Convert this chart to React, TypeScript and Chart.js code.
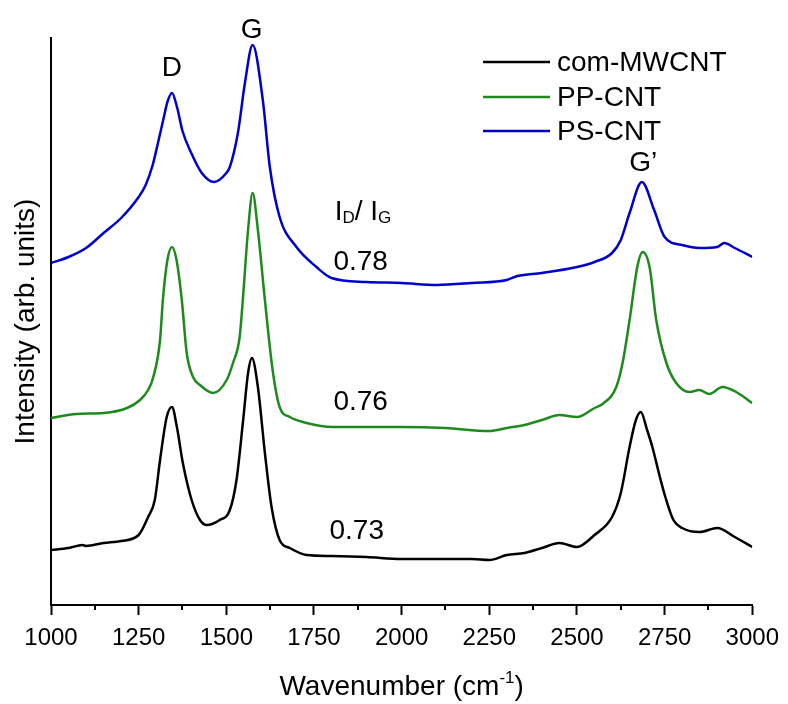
import React, { useEffect, useRef } from 'react';
import { Chart, registerables } from 'chart.js';

Chart.register(...registerables);

// ---------- data ----------
const seriesNames = ['com-MWCNT', 'PP-CNT', 'PS-CNT'];
const seriesColors = ['#000000', '#1e8a1e', '#0000cd'];

const mwcntWavenumber = [1000, 1050, 1090, 1100, 1150, 1200, 1250, 1277, 1296, 1311, 1330, 1345, 1359, 1376, 1401, 1425, 1444, 1481, 1510, 1529, 1548, 1562, 1573, 1590, 1610, 1629, 1652, 1681, 1729, 1800, 1900, 2000, 2100, 2200, 2250, 2300, 2350, 2400, 2450, 2500, 2550, 2600, 2625, 2650, 2668, 2682, 2700, 2715, 2735, 2752, 2775, 2800, 2850, 2900, 2950, 3000];
const mwcntIntensity = [55, 57, 60, 59, 62, 64, 70, 88, 105, 145, 188, 198, 178, 142, 105, 85, 80, 85, 95, 125, 185, 232, 247, 218, 152, 98, 65, 57, 50, 49, 48, 46, 46, 46, 45, 50, 52, 57, 62, 58, 70, 88, 112, 158, 185, 193, 175, 158, 130, 108, 85, 77, 73, 77, 68, 58];

const ppWavenumber = [1000, 1073, 1150, 1217, 1254, 1277, 1291, 1311, 1319, 1332, 1345, 1358, 1373, 1387, 1405, 1425, 1462, 1501, 1519, 1538, 1547, 1562, 1575, 1590, 1610, 1632, 1652, 1681, 1729, 1803, 1900, 2000, 2125, 2250, 2300, 2350, 2400, 2450, 2500, 2550, 2573, 2612, 2630, 2650, 2672, 2687, 2707, 2726, 2755, 2783, 2821, 2849, 2877, 2915, 2954, 3000];
const ppIntensity = [187, 191, 192, 197, 205, 215, 227, 265, 305, 345, 358, 345, 305, 252, 228, 220, 212, 225, 242, 268, 305, 375, 412, 375, 305, 235, 198, 188, 182, 178, 178, 178, 177, 174, 177, 180, 185, 190, 188, 197, 201, 218, 242, 285, 338, 353, 338, 285, 242, 222, 213, 215, 211, 218, 213, 202];

const psWavenumber = [1000, 1050, 1100, 1150, 1200, 1250, 1270, 1290, 1305, 1320, 1332, 1345, 1360, 1375, 1400, 1430, 1465, 1500, 1510, 1533, 1553, 1575, 1604, 1624, 1652, 1700, 1757, 1800, 1900, 2000, 2100, 2200, 2300, 2330, 2400, 2500, 2550, 2600, 2625, 2650, 2685, 2720, 2750, 2800, 2850, 2900, 2920, 2950, 3000];
const psIntensity = [342, 348, 357, 372, 387, 408, 420, 440, 462, 485, 503, 512, 497, 474, 452, 432, 423, 432, 438, 472, 522, 560, 505, 438, 388, 358, 338, 327, 323, 322, 320, 322, 325, 329, 332, 338, 343, 352, 365, 392, 423, 395, 368, 360, 357, 358, 362, 357, 348];

const xTickStep = 250;
const xMinorTicks = [1125, 1375, 1625, 1875, 2125, 2375, 2625, 2875];

const peakLabels = ['D', 'G', 'G\u2019'];
const peakLabelX = [1345, 1572, 2689];
const peakLabelY = [537, 575, 442];

const ratioLabels = ['0.73', '0.76', '0.78'];
const ratioLabelX = [1872, 1883, 1883];
const ratioLabelY = [74, 203, 343];

const FONT = '"Liberation Sans", Arial, sans-serif';

const annotationPlugin = {
  id: 'annotations',
  afterDraw(chart: any) {
    const ctx = chart.ctx as CanvasRenderingContext2D;
    const xs = chart.scales.x;
    const ys = chart.scales.y;
    ctx.save();
    ctx.fillStyle = '#000';
    ctx.strokeStyle = '#000';

    // minor ticks
    ctx.lineWidth = 2;
    const bottom = chart.chartArea.bottom;
    xMinorTicks.forEach((v) => {
      const px = Math.round(xs.getPixelForValue(v));
      ctx.beginPath();
      ctx.moveTo(px, bottom);
      ctx.lineTo(px, bottom + 5);
      ctx.stroke();
    });

    // peak labels
    ctx.font = `28px ${FONT}`;
    ctx.textAlign = 'center';
    ctx.textBaseline = 'middle';
    peakLabels.forEach((t, i) => {
      ctx.fillText(t, xs.getPixelForValue(peakLabelX[i]), ys.getPixelForValue(peakLabelY[i]));
    });

    // ratio labels
    ratioLabels.forEach((t, i) => {
      ctx.fillText(t, xs.getPixelForValue(ratioLabelX[i]), ys.getPixelForValue(ratioLabelY[i]));
    });

    // I_D / I_G
    ctx.textAlign = 'left';
    ctx.textBaseline = 'alphabetic';
    let x = xs.getPixelForValue(1809);
    const base = ys.getPixelForValue(385);
    const big = `28px ${FONT}`;
    const small = `17px ${FONT}`;
    const parts: [string, string, number][] = [
      ['I', big, 0],
      ['D', small, 3],
      ['/ ', big, 0],
      ['I', big, 0],
      ['G', small, 3],
    ];
    parts.forEach(([t, f, dy]) => {
      ctx.font = f;
      ctx.fillText(t, x, base + dy);
      x += ctx.measureText(t).width;
    });

    // x axis title with superscript
    const title1 = 'Wavenumber (cm';
    const sup = '-1';
    const title2 = ')';
    ctx.font = `28px ${FONT}`;
    const w1 = ctx.measureText(title1).width;
    const w3 = ctx.measureText(title2).width;
    ctx.font = `17px ${FONT}`;
    const w2 = ctx.measureText(sup).width;
    const cx = (chart.chartArea.left + chart.chartArea.right) / 2;
    let tx = cx - (w1 + w2 + w3) / 2;
    const ty = 695;
    ctx.font = `28px ${FONT}`;
    ctx.fillText(title1, tx, ty);
    tx += w1;
    ctx.font = `17px ${FONT}`;
    ctx.fillText(sup, tx, ty - 12);
    tx += w2;
    ctx.font = `28px ${FONT}`;
    ctx.fillText(title2, tx, ty);

    // legend
    const legendY = [62, 97, 131];
    ctx.textBaseline = 'middle';
    seriesNames.forEach((name, i) => {
      ctx.strokeStyle = seriesColors[i];
      ctx.lineWidth = 2.5;
      ctx.beginPath();
      ctx.moveTo(483, legendY[i]);
      ctx.lineTo(550, legendY[i]);
      ctx.stroke();
      ctx.fillStyle = '#000';
      ctx.font = `28px ${FONT}`;
      ctx.fillText(name, 557, legendY[i] + 1);
    });

    ctx.restore();
  },
};

export default function App() {
  const canvasRef = useRef<HTMLCanvasElement | null>(null);

  useEffect(() => {
    document.body.style.margin = '0';
    const canvas = canvasRef.current;
    if (!canvas) return;
    const mk = (xs: number[], ys: number[]) => xs.map((w, i) => ({ x: w, y: ys[i] }));
    const chart = new Chart(canvas, {
      type: 'line',
      data: {
        datasets: [
          { label: seriesNames[0], data: mk(mwcntWavenumber, mwcntIntensity), borderColor: seriesColors[0] },
          { label: seriesNames[1], data: mk(ppWavenumber, ppIntensity), borderColor: seriesColors[1] },
          { label: seriesNames[2], data: mk(psWavenumber, psIntensity), borderColor: seriesColors[2] },
        ].map((d) => ({
          ...d,
          borderWidth: 2.5,
          pointRadius: 0,
          fill: false,
          cubicInterpolationMode: 'monotone' as const,
        })),
      },
      options: {
        animation: false,
        responsive: false,
        devicePixelRatio: 1,
        layout: { padding: { top: 38, right: 35, left: 0, bottom: 0 } },
        plugins: {
          legend: { display: false },
          tooltip: { enabled: false },
        },
        scales: {
          x: {
            type: 'linear',
            min: 1000,
            max: 3000,
            afterFit: (s: any) => { s.height = 99; },
            ticks: {
              stepSize: xTickStep,
              color: '#000',
              font: { family: FONT, size: 24 },
              padding: 9,
              maxRotation: 0,
              autoSkip: false,
              callback: (v: any) => String(v),
            },
            grid: {
              display: true,
              drawOnChartArea: false,
              drawTicks: true,
              tickLength: 10,
              tickWidth: 2,
              tickColor: '#000',
            },
            border: { display: true, color: '#000', width: 2 },
          },
          y: {
            type: 'linear',
            min: 0,
            max: 567,
            afterFit: (s: any) => { s.width = 51; },
            ticks: { display: false },
            grid: { display: false, drawTicks: false },
            border: { display: true, color: '#000', width: 2 },
            title: {
              display: true,
              text: 'Intensity (arb. units)',
              color: '#000',
              font: { family: FONT, size: 28 },
              padding: { top: 9, bottom: 0 },
            },
          },
        },
      },
      plugins: [annotationPlugin],
    });
    return () => chart.destroy();
  }, []);

  return (
    <div style={{ position: 'absolute', left: 0, top: 0, width: 788, height: 704, background: '#fff' }}>
      <canvas ref={canvasRef} width={788} height={704} />
    </div>
  );
}
